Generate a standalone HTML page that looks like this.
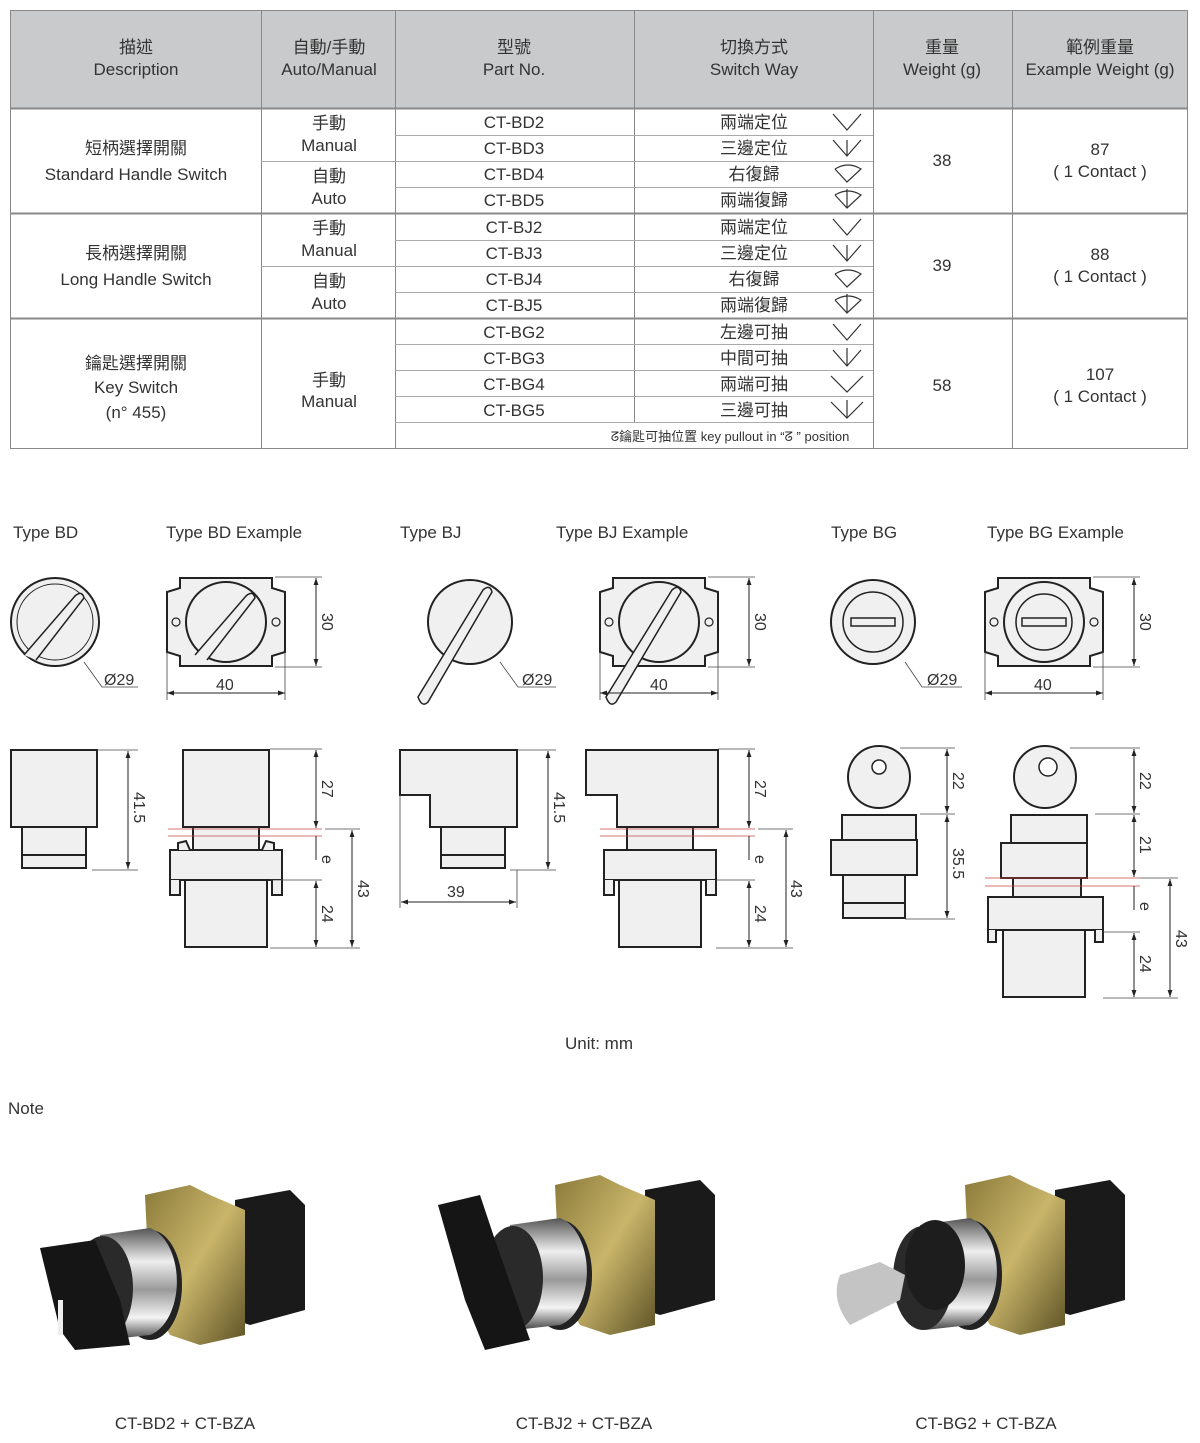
<!DOCTYPE html>
<html><head><meta charset="utf-8"><style>
html,body{margin:0;padding:0;background:#fff;}
svg{display:block;}
text{font-family:"Liberation Sans","Noto Sans CJK TC",sans-serif;fill:#333;}
</style></head><body>
<svg width="1200" height="1443" viewBox="0 0 1200 1443" xmlns="http://www.w3.org/2000/svg">
<defs>
<marker id="ar" viewBox="0 0 10 10" refX="10" refY="5" markerWidth="7" markerHeight="9" orient="auto-start-reverse" markerUnits="userSpaceOnUse"><path d="M0,1.5 L10,5 L0,8.5z" fill="#222"/></marker>
<linearGradient id="sil" x1="0" y1="0" x2="0" y2="1"><stop offset="0" stop-color="#555"/><stop offset=".3" stop-color="#eee"/><stop offset=".55" stop-color="#999"/><stop offset=".8" stop-color="#f4f4f4"/><stop offset="1" stop-color="#444"/></linearGradient>
<linearGradient id="gold" x1="0" y1="0" x2="1" y2="1"><stop offset="0" stop-color="#8a7a3a"/><stop offset=".5" stop-color="#c9b56a"/><stop offset="1" stop-color="#5e5326"/></linearGradient>
<g id="photo">
  <path d="M235,1200 L290,1190 L305,1205 L305,1310 L250,1325 L235,1320z" fill="#1a1a1a"/>
  <path d="M145,1195 L190,1185 L210,1195 L245,1210 L245,1335 L200,1345 L170,1335 L150,1300z" fill="url(#gold)"/>
  <ellipse cx="150" cy="1285" rx="32" ry="55" fill="#222"/>
  <path d="M100,1235 L150,1228 A35,55 0 0 1 150,1335 L105,1340z" fill="url(#sil)"/>
  <ellipse cx="103" cy="1288" rx="30" ry="52" fill="#2a2a2a"/>
</g>
<g id="knobBD">
  <path d="M40,1248 L95,1240 L120,1300 L130,1345 L75,1350 L60,1330z" fill="#151515"/>
  <rect x="58" y="1300" width="5" height="35" fill="#eee"/>
</g>
</defs>

<!-- TABLE -->
<rect x="10" y="10" width="1178" height="98" fill="#c9cacb"/>
<g stroke="#888" stroke-width="1" fill="none">
<rect x="10.5" y="10.5" width="1177" height="438"/>
<line x1="261.5" y1="10" x2="261.5" y2="449"/>
<line x1="395.5" y1="10" x2="395.5" y2="449"/>
<line x1="634.5" y1="10" x2="634.5" y2="422"/>
<line x1="873.5" y1="10" x2="873.5" y2="449"/>
<line x1="1012.5" y1="10" x2="1012.5" y2="449"/>
<line x1="10" y1="108.5" x2="1188" y2="108.5" stroke-width="2"/>
<line x1="10" y1="213.5" x2="1188" y2="213.5" stroke-width="2"/>
<line x1="10" y1="318.5" x2="1188" y2="318.5" stroke-width="2"/>
<g stroke="#aaa">
<line x1="395" y1="135.5" x2="873" y2="135.5"/><line x1="261" y1="161.5" x2="873" y2="161.5"/><line x1="395" y1="187.5" x2="873" y2="187.5"/>
<line x1="395" y1="240.5" x2="873" y2="240.5"/><line x1="261" y1="266.5" x2="873" y2="266.5"/><line x1="395" y1="292.5" x2="873" y2="292.5"/>
<line x1="395" y1="344.5" x2="873" y2="344.5"/><line x1="395" y1="370.5" x2="873" y2="370.5"/><line x1="395" y1="396.5" x2="873" y2="396.5"/><line x1="395" y1="422.5" x2="873" y2="422.5"/>
</g>
</g>
<g font-size="17" text-anchor="middle">
<text x="136" y="53">描述</text><text x="136" y="75">Description</text>
<text x="329" y="53">自動/手動</text><text x="329" y="75">Auto/Manual</text>
<text x="514" y="53">型號</text><text x="514" y="75">Part No.</text>
<text x="754" y="53">切換方式</text><text x="754" y="75">Switch Way</text>
<text x="942" y="53">重量</text><text x="942" y="75">Weight (g)</text>
<text x="1100" y="53">範例重量</text><text x="1100" y="75">Example Weight (g)</text>

<text x="136" y="154">短柄選擇開關</text><text x="136" y="180">Standard Handle Switch</text>
<text x="136" y="259">長柄選擇開關</text><text x="136" y="285">Long Handle Switch</text>
<text x="136" y="369">鑰匙選擇開關</text><text x="136" y="393">Key Switch</text><text x="136" y="418">(n° 455)</text>

<text x="329" y="129">手動</text><text x="329" y="151">Manual</text>
<text x="329" y="182">自動</text><text x="329" y="204">Auto</text>
<text x="329" y="234">手動</text><text x="329" y="256">Manual</text>
<text x="329" y="287">自動</text><text x="329" y="309">Auto</text>
<text x="329" y="386">手動</text><text x="329" y="407">Manual</text>

<text x="514" y="128">CT-BD2</text><text x="514" y="154">CT-BD3</text><text x="514" y="180">CT-BD4</text><text x="514" y="206">CT-BD5</text>
<text x="514" y="233">CT-BJ2</text><text x="514" y="259">CT-BJ3</text><text x="514" y="285">CT-BJ4</text><text x="514" y="311">CT-BJ5</text>
<text x="514" y="338">CT-BG2</text><text x="514" y="364">CT-BG3</text><text x="514" y="390">CT-BG4</text><text x="514" y="416">CT-BG5</text>

<text x="754" y="128">兩端定位</text><text x="754" y="154">三邊定位</text><text x="754" y="180">右復歸</text><text x="754" y="206">兩端復歸</text>
<text x="754" y="233">兩端定位</text><text x="754" y="259">三邊定位</text><text x="754" y="285">右復歸</text><text x="754" y="311">兩端復歸</text>
<text x="754" y="338">左邊可抽</text><text x="754" y="364">中間可抽</text><text x="754" y="390">兩端可抽</text><text x="754" y="416">三邊可抽</text>

<text x="942" y="166">38</text><text x="942" y="271">39</text><text x="942" y="391">58</text>
<text x="1100" y="155">87</text><text x="1100" y="177">( 1 Contact )</text>
<text x="1100" y="260">88</text><text x="1100" y="282">( 1 Contact )</text>
<text x="1100" y="380">107</text><text x="1100" y="402">( 1 Contact )</text>
</g>
<text x="730" y="441" font-size="13" text-anchor="middle">ᘔ鑰匙可抽位置  key pullout in “ᘔ ” position</text>

<!-- switch icons -->
<g stroke="#333" stroke-width="1.2" fill="none">
<path d="M833,114 L847,130 L861,114"/>
<path d="M833,140 L847,156 L861,140 M847,140 L847,156"/>
<path d="M835,169 Q848,161 861,169 L847,182 L835,169"/>
<path d="M835,195 Q848,187 861,195 L847,208 L835,195 M847,189 L847,208"/>
<path d="M833,219 L847,235 L861,219"/>
<path d="M833,245 L847,261 L861,245 M847,245 L847,261"/>
<path d="M835,274 Q848,266 861,274 L847,287 L835,274"/>
<path d="M835,300 Q848,292 861,300 L847,313 L835,300 M847,294 L847,313"/>
<path d="M833,324 L847,340 L861,324"/>
<path d="M833,350 L847,366 L861,350 M847,348 L847,366"/>
<path d="M831,376 L847,392 L863,376"/>
<path d="M831,402 L847,418 L863,402 M847,400 L847,418"/>
</g>

<!-- Type labels -->
<g font-size="17">
<text x="13" y="538">Type BD</text><text x="166" y="538">Type BD Example</text>
<text x="400" y="538">Type BJ</text><text x="556" y="538">Type BJ Example</text>
<text x="831" y="538">Type BG</text><text x="987" y="538">Type BG Example</text>
<text x="565" y="1049">Unit: mm</text>
<text x="8" y="1114">Note</text>
<text x="185" y="1429" text-anchor="middle" fill="#555">CT-BD2 + CT-BZA</text>
<text x="584" y="1429" text-anchor="middle" fill="#555">CT-BJ2 + CT-BZA</text>
<text x="986" y="1429" text-anchor="middle" fill="#555">CT-BG2 + CT-BZA</text>
</g>

<!-- DRAWINGS top views -->
<g stroke="#222" fill="#f0f0f0" stroke-width="2">
<!-- BD -->
<circle cx="55" cy="622" r="44"/><circle cx="55" cy="622" r="38" stroke-width="1" fill="none"/>
<path d="M24,655 L75,596 Q82,590 84,598 L36,660" fill="#f0f0f0" stroke-width="1.5"/>
<!-- plates -->
<path d="M180,578 L272,578 L272,588 L285,592 L285,652 L272,656 L272,666 L180,666 L180,656 L167,652 L167,592 L180,588z"/>
<path d="M613,578 L705,578 L705,588 L718,592 L718,652 L705,656 L705,666 L613,666 L613,656 L600,652 L600,592 L613,588z"/>
<path d="M998,578 L1090,578 L1090,588 L1103,592 L1103,652 L1090,656 L1090,666 L998,666 L998,656 L985,652 L985,592 L998,588z"/>
<circle cx="226" cy="622" r="40"/>
<path d="M195,655 L246,596 Q253,590 255,598 L207,660" stroke-width="1.5"/>
<!-- BJ -->
<circle cx="470" cy="622" r="42"/>
<path d="M418,697 L483,590 Q490,584 492,592 L428,702 Q422,708 418,697z" stroke-width="1.5"/>
<circle cx="659" cy="622" r="40"/>
<path d="M606,697 L672,590 Q679,584 681,592 L616,702 Q610,708 606,697z" stroke-width="1.5"/>
<!-- BG -->
<circle cx="873" cy="622" r="42"/><circle cx="873" cy="622" r="30" stroke-width="1.5"/>
<rect x="851" y="618" width="44" height="8" stroke-width="1.5"/>
<circle cx="1044" cy="622" r="40"/><circle cx="1044" cy="622" r="28" stroke-width="1.5"/>
<rect x="1022" y="618" width="44" height="8" stroke-width="1.5"/>
</g>
<g fill="none" stroke="#222" stroke-width="1.2">
<circle cx="176" cy="622" r="4"/><circle cx="276" cy="622" r="4"/>
<circle cx="609" cy="622" r="4"/><circle cx="709" cy="622" r="4"/>
<circle cx="994" cy="622" r="4"/><circle cx="1094" cy="622" r="4"/>
</g>

<!-- dims top -->
<g stroke="#444" stroke-width="0.8" fill="none">
<path d="M84,662 L102,687 L138,687"/><path d="M500,662 L518,687 L556,687"/><path d="M905,662 L922,687 L962,687"/>
<line x1="275" y1="577" x2="322" y2="577"/><line x1="275" y1="667" x2="322" y2="667"/>
<line x1="708" y1="577" x2="755" y2="577"/><line x1="708" y1="667" x2="755" y2="667"/>
<line x1="1093" y1="577" x2="1140" y2="577"/><line x1="1093" y1="667" x2="1140" y2="667"/>
<line x1="167" y1="652" x2="167" y2="700"/><line x1="285" y1="652" x2="285" y2="700"/>
<line x1="600" y1="652" x2="600" y2="700"/><line x1="718" y1="652" x2="718" y2="700"/>
<line x1="985" y1="652" x2="985" y2="700"/><line x1="1103" y1="652" x2="1103" y2="700"/>
</g>
<g stroke="#222" stroke-width="1" marker-start="url(#ar)" marker-end="url(#ar)">
<line x1="316" y1="578" x2="316" y2="666"/><line x1="749" y1="578" x2="749" y2="666"/><line x1="1134" y1="578" x2="1134" y2="666"/>
<line x1="167" y1="693" x2="285" y2="693"/><line x1="600" y1="693" x2="718" y2="693"/><line x1="985" y1="693" x2="1103" y2="693"/>
</g>
<g font-size="16">
<text x="104" y="685">Ø29</text><text x="522" y="685">Ø29</text><text x="927" y="685">Ø29</text>
<text x="216" y="690">40</text><text x="650" y="690">40</text><text x="1034" y="690">40</text>
<text transform="translate(322,613) rotate(90)">30</text><text transform="translate(755,613) rotate(90)">30</text><text transform="translate(1140,613) rotate(90)">30</text>
</g>

<!-- side views -->
<g stroke="#222" stroke-width="2" fill="#f0f0f0">
<!-- BD -->
<rect x="11" y="750" width="86" height="77"/><rect x="22" y="827" width="64" height="41"/>
<line x1="22" y1="855" x2="86" y2="855"/>
<!-- BD ex -->
<rect x="183" y="750" width="86" height="77"/><rect x="193" y="827" width="66" height="25"/>
<rect x="170" y="850" width="112" height="30"/>
<path d="M185,880 L267,880 L267,947 L185,947z"/>
<path d="M170,880 L170,895 L180,895 L180,880 M282,880 L282,895 L272,895 L272,880"/>
<path d="M178,850 L178,843 L186,841 L190,850 M274,850 L274,843 L266,841 L262,850"/>
<!-- BJ -->
<path d="M400,750 L517,750 L517,827 L430,827 L430,795 L400,795z"/>
<rect x="441" y="827" width="64" height="41"/><line x1="441" y1="855" x2="505" y2="855"/>
<!-- BJ ex -->
<path d="M586,750 L718,750 L718,827 L617,827 L617,795 L586,795z"/>
<rect x="627" y="827" width="66" height="25"/>
<rect x="604" y="850" width="112" height="30"/>
<rect x="619" y="880" width="82" height="67"/>
<path d="M604,880 L604,895 L614,895 L614,880 M716,880 L716,895 L706,895 L706,880"/>
<!-- BG -->
<circle cx="879" cy="777" r="31"/>
<rect x="842" y="815" width="74" height="36"/><rect x="831" y="840" width="86" height="35"/>
<rect x="843" y="875" width="62" height="43"/><line x1="843" y1="903" x2="905" y2="903"/>
<!-- BG ex -->
<circle cx="1045" cy="777" r="31"/>
<rect x="1011" y="815" width="76" height="28"/><rect x="1001" y="843" width="86" height="35"/>
<rect x="1013" y="878" width="68" height="20"/>
<rect x="988" y="897" width="115" height="33"/>
<rect x="1003" y="930" width="82" height="67"/>
<path d="M988,930 L988,942 L996,942 L996,930 M1103,930 L1103,942 L1095,942 L1095,930"/>
</g>
<g fill="#fff" stroke="#222" stroke-width="1.5"><circle cx="879" cy="767" r="7"/><circle cx="1048" cy="767" r="9"/></g>

<!-- red lines -->
<g stroke="#c44" stroke-width="0.8">
<line x1="168" y1="829" x2="322" y2="829"/><line x1="168" y1="836" x2="322" y2="836"/>
<line x1="600" y1="829" x2="755" y2="829"/><line x1="600" y1="836" x2="755" y2="836"/>
<line x1="985" y1="878" x2="1140" y2="878"/><line x1="985" y1="886" x2="1140" y2="886"/>
</g>
<g stroke="#444" stroke-width="0.8">
<line x1="97" y1="750" x2="138" y2="750"/><line x1="92" y1="870" x2="138" y2="870"/>
<line x1="270" y1="749" x2="322" y2="749"/><line x1="325" y1="829" x2="360" y2="829"/><line x1="270" y1="880" x2="322" y2="880"/><line x1="270" y1="948" x2="360" y2="948"/>
<line x1="517" y1="750" x2="556" y2="750"/><line x1="510" y1="870" x2="556" y2="870"/>
<line x1="400" y1="795" x2="400" y2="908"/><line x1="517" y1="870" x2="517" y2="908"/>
<line x1="718" y1="749" x2="755" y2="749"/><line x1="758" y1="829" x2="793" y2="829"/><line x1="716" y1="880" x2="755" y2="880"/><line x1="716" y1="948" x2="793" y2="948"/>
<line x1="900" y1="748" x2="955" y2="748"/><line x1="920" y1="814" x2="955" y2="814"/><line x1="905" y1="919" x2="955" y2="919"/>
<line x1="1070" y1="748" x2="1140" y2="748"/><line x1="1095" y1="814" x2="1140" y2="814"/><line x1="1140" y1="878" x2="1178" y2="878"/><line x1="1103" y1="932" x2="1140" y2="932"/><line x1="1103" y1="998" x2="1178" y2="998"/>
</g>
<g stroke="#222" stroke-width="1" marker-start="url(#ar)" marker-end="url(#ar)">
<line x1="128" y1="751" x2="128" y2="869"/>
<line x1="316" y1="750" x2="316" y2="828"/><line x1="316" y1="881" x2="316" y2="947"/><line x1="352" y1="830" x2="352" y2="947"/>
<line x1="548" y1="751" x2="548" y2="869"/><line x1="401" y1="902" x2="516" y2="902"/>
<line x1="749" y1="750" x2="749" y2="828"/><line x1="749" y1="881" x2="749" y2="947"/><line x1="786" y1="830" x2="786" y2="947"/>
<line x1="947" y1="749" x2="947" y2="813"/><line x1="947" y1="815" x2="947" y2="918"/>
<line x1="1134" y1="749" x2="1134" y2="813"/><line x1="1134" y1="815" x2="1134" y2="877"/><line x1="1134" y1="933" x2="1134" y2="997"/><line x1="1170" y1="879" x2="1170" y2="997"/>
</g>
<g stroke="#222" stroke-width="1"><line x1="316" y1="836" x2="316" y2="860"/><line x1="749" y1="836" x2="749" y2="860"/><line x1="1134" y1="886" x2="1134" y2="910"/></g>
<g font-size="16">
<text transform="translate(134,792) rotate(90)">41.5</text>
<text transform="translate(322,780) rotate(90)">27</text><text transform="translate(322,855) rotate(90)">e</text><text transform="translate(322,905) rotate(90)">24</text><text transform="translate(358,880) rotate(90)">43</text>
<text transform="translate(554,792) rotate(90)">41.5</text><text x="447" y="897">39</text>
<text transform="translate(755,780) rotate(90)">27</text><text transform="translate(755,855) rotate(90)">e</text><text transform="translate(755,905) rotate(90)">24</text><text transform="translate(791,880) rotate(90)">43</text>
<text transform="translate(953,772) rotate(90)">22</text><text transform="translate(953,848) rotate(90)">35.5</text>
<text transform="translate(1140,772) rotate(90)">22</text><text transform="translate(1140,836) rotate(90)">21</text><text transform="translate(1140,902) rotate(90)">e</text><text transform="translate(1140,955) rotate(90)">24</text><text transform="translate(1176,930) rotate(90)">43</text>
</g>

<!-- photos -->
<use href="#photo"/>
<use href="#knobBD"/>
<use href="#photo" x="410" y="-10"/>
<path d="M438,1205 L480,1195 L495,1240 L530,1340 L485,1350 L465,1300z" fill="#151515"/>
<use href="#photo" x="820" y="-10"/>
<ellipse cx="935" cy="1265" rx="30" ry="45" fill="#1d1d1d"/>
<path d="M840,1275 Q830,1300 850,1325 L900,1300 L905,1275 L880,1262z" fill="#c4c4c4"/>
</svg>
</body></html>
